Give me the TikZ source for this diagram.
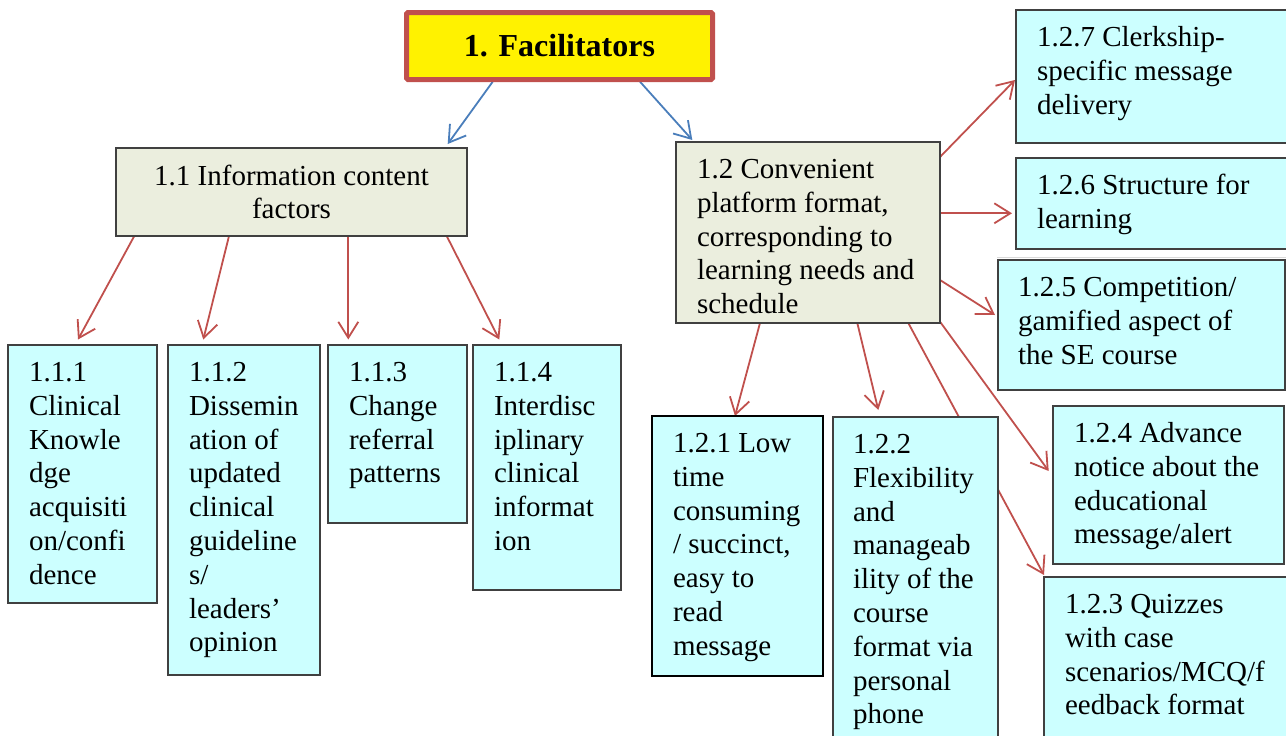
\documentclass[tikz,border=0pt]{standalone}
\usepackage{fontspec}
\setmainfont{Liberation Serif}
\usetikzlibrary{arrows.meta,backgrounds}

\definecolor{cyanfill}{HTML}{CCFFFF}
\definecolor{olivefill}{HTML}{EBEEDE}
\definecolor{edgegray}{HTML}{404040}
\definecolor{linkred}{HTML}{C0504D}
\definecolor{linkblue}{HTML}{4A7EBB}
\definecolor{titlered}{HTML}{C0504D}

\newcommand{\bodyfont}{\fontsize{29}{33.8}\selectfont}
\newcommand{\firstline}{\rule{0pt}{24pt}}

\tikzset{
  frame/.style={rectangle, anchor=north west, inner sep=0pt, outer sep=0pt,
    draw=edgegray, line width=1.6pt},
  leafbox/.style={frame, fill=cyanfill},
  groupbox/.style={frame, fill=olivefill},
  titlebox/.style={rectangle, inner sep=0pt, outer sep=0pt, fill=yellow,
    draw=titlered, line width=5pt, rounded corners=1.5pt,
    font=\fontsize{32}{36}\selectfont\bfseries},
  txt/.style={anchor=north west, inner sep=0pt, outer sep=0pt, align=left,
    font=\bodyfont},
  redlink/.style={draw=linkred, line width=1.8pt,
    -{Straight Barb[length=16pt,width=20pt]}},
  bluelink/.style={draw=linkblue, line width=1.8pt,
    -{Straight Barb[length=16pt,width=20pt]}},
}

\begin{document}
\begin{tikzpicture}[x=1pt,y=-1pt]
\clip (0,0) rectangle (1286,736);

% header
\node[titlebox, minimum width=306pt, minimum height=67pt, anchor=north west]
  (top) at (406.5,12.5) {1. Facilitators};

% second level
\node[groupbox, minimum width=351pt, minimum height=88pt, align=center, font=\bodyfont]
  (n11) at (116,148) {1.1 Information content\\factors};
\node[groupbox, minimum width=264pt, minimum height=181pt] (n12) at (676,142) {};
\node[txt] (t12) at ([xshift=21pt,yshift=-12.5pt]n12.north west)
  {\firstline 1.2 Convenient\\platform format,\\corresponding to\\learning needs and\\schedule};

% branch 1.1
\node[leafbox, minimum width=149pt, minimum height=258pt] (n111) at (8,345) {};
\node[txt] (t111) at ([xshift=21pt,yshift=-12.5pt]n111.north west)
  {\firstline 1.1.1\\Clinical\\Knowle\\dge\\acquisiti\\on/confi\\dence};

\node[leafbox, minimum width=152pt, minimum height=330pt] (n112) at (168,345) {};
\node[txt] (t112) at ([xshift=21pt,yshift=-12.5pt]n112.north west)
  {\firstline 1.1.2\\Dissemin\\ation of\\updated\\clinical\\guideline\\s/\\leaders’\\opinion};

\node[leafbox, minimum width=139pt, minimum height=178pt] (n113) at (328,345) {};
\node[txt] (t113) at ([xshift=21pt,yshift=-12.5pt]n113.north west)
  {\firstline 1.1.3\\Change\\referral\\patterns};

\node[leafbox, minimum width=148pt, minimum height=245pt] (n114) at (473,345) {};
\node[txt] (t114) at ([xshift=21pt,yshift=-12.5pt]n114.north west)
  {\firstline 1.1.4\\Interdisc\\iplinary\\clinical\\informat\\ion};

% branch 1.2
\node[leafbox, draw=black, line width=2.6pt, minimum width=171pt, minimum height=260pt]
  (n121) at (652,416) {};
\node[txt] (t121) at ([xshift=21pt,yshift=-12.5pt]n121.north west)
  {\firstline 1.2.1 Low\\time\\consuming\\/ succinct,\\easy to\\read\\message};

\node[leafbox, minimum width=165pt, minimum height=340pt] (n122) at (833,417) {};
\node[txt] (t122) at ([xshift=20pt,yshift=-12.5pt]n122.north west)
  {\firstline 1.2.2\\Flexibility\\and\\manageab\\ility of the\\course\\format via\\personal\\phone};

\node[leafbox, minimum width=260pt, minimum height=180pt] (n123) at (1044,577) {};
\node[txt] (t123) at ([xshift=21pt,yshift=-12.5pt]n123.north west)
  {\firstline 1.2.3 Quizzes\\with case\\scenarios/MCQ/f\\eedback format};

\node[leafbox, minimum width=231pt, minimum height=158pt] (n124) at (1053,406) {};
\node[txt] (t124) at ([xshift=21pt,yshift=-12.5pt]n124.north west)
  {\firstline 1.2.4 Advance\\notice about the\\educational\\message/alert};

\draw[gray!30, line width=1pt] (997,257) -- (1286,257);

\node[leafbox, minimum width=287pt, minimum height=130pt] (n125) at (998,260) {};
\node[txt] (t125) at ([xshift=20pt,yshift=-12.5pt]n125.north west)
  {\firstline 1.2.5 Competition/\\gamified aspect of\\the SE course};

\node[leafbox, minimum width=290pt, minimum height=91pt] (n126) at (1016,158) {};
\node[txt] (t126) at ([xshift=21pt,yshift=-12.5pt]n126.north west)
  {\firstline 1.2.6 Structure for\\learning};

\node[leafbox, minimum width=290pt, minimum height=133pt] (n127) at (1016,10) {};
\node[txt] (t127) at ([xshift=21pt,yshift=-12.5pt]n127.north west)
  {\firstline 1.2.7 Clerkship-\\specific message\\delivery};

% connectors, kept behind the boxes
\begin{scope}[on background layer]
  \draw[bluelink] ([xshift=86.2pt,yshift=-2.2pt]top.south west)
    -- ([xshift=331.7pt,yshift=4pt]n11.north west);
  \draw[bluelink] ([xshift=233.5pt,yshift=-2.2pt]top.south west)
    -- ([xshift=16.3pt,yshift=2pt]n12.north west);

  \draw[redlink] ([xshift=18.3pt]n11.south west) -- ([xshift=70pt,yshift=5.5pt]n111.north west);
  \draw[redlink] ([xshift=113pt]n11.south west) -- ([xshift=35.3pt,yshift=5.5pt]n112.north west);
  \draw[redlink] ([xshift=232.3pt]n11.south west) -- ([xshift=20.3pt,yshift=5.5pt]n113.north west);
  \draw[redlink] ([xshift=330.7pt]n11.south west) -- ([xshift=26.3pt,yshift=5.5pt]n114.north west);

  \draw[redlink] ([yshift=-15pt]n12.north east) -- ([xshift=-1pt,yshift=-70pt]n127.north west);
  \draw[redlink] ([yshift=-71.3pt]n12.north east) -- ([xshift=-4pt,yshift=-55.3pt]n126.north west);
  \draw[redlink] ([yshift=-138pt]n12.north east) -- ([xshift=-3pt,yshift=-55pt]n125.north west);
  \draw[redlink] ([yshift=1.3pt]n12.south east) -- ([xshift=-4.3pt,yshift=-65pt]n124.north west);
  \draw[redlink] ([xshift=-31.7pt]n12.south east) -- ([yshift=2pt]n123.north west);
  \draw[redlink] ([xshift=181.3pt]n12.south west) -- ([xshift=45.3pt,yshift=7pt]n122.north west);
  \draw[redlink] ([xshift=84pt]n12.south west) -- ([xshift=83pt]n121.north west);
\end{scope}
\end{tikzpicture}
\end{document}
